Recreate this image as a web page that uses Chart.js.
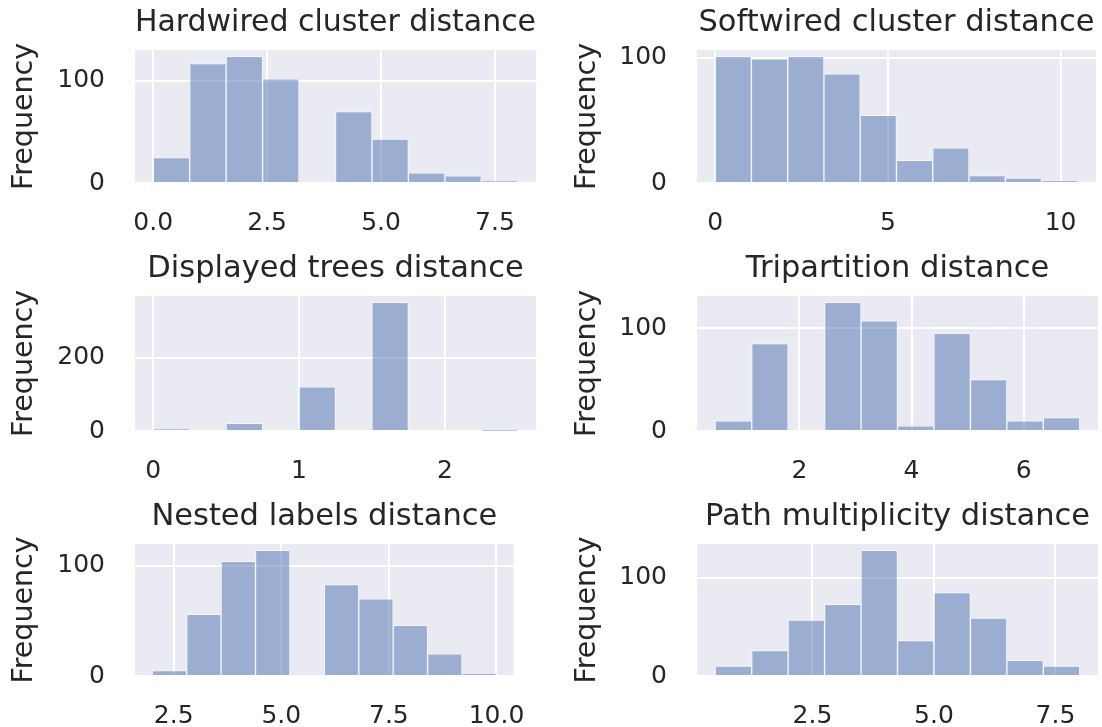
<!DOCTYPE html>
<html>
<head>
<meta charset="utf-8">
<title>Distance histograms</title>
<script src="https://cdn.jsdelivr.net/npm/chart.js@4.4.0/dist/chart.umd.min.js"></script>
<style>
  body { margin: 0; background: #fff; }
  #figure { position: relative; width: 1102px; height: 727px; }
  #figure canvas { position: absolute; }
</style>
</head>
<body>
<div id="figure">
  <canvas id="hardwired" width="551" height="242" style="left:0;top:0"></canvas>
  <canvas id="softwired" width="551" height="242" style="left:551px;top:0"></canvas>
  <canvas id="displayed" width="551" height="242" style="left:0;top:242px"></canvas>
  <canvas id="tripartition" width="551" height="242" style="left:551px;top:242px"></canvas>
  <canvas id="nested" width="551" height="243" style="left:0;top:484px"></canvas>
  <canvas id="path" width="551" height="243" style="left:551px;top:484px"></canvas>
</div>
<script>
// bin range [first edge, last edge] and the 10 bin counts of each histogram
const hardwiredRange = [0, 8];
const hardwiredCounts = [25, 117, 124, 102, 0, 70, 43, 10, 7, 2];
const hardwiredXTicks = [0, 2.5, 5, 7.5];
const hardwiredXLabels = ['0.0', '2.5', '5.0', '7.5'];
const hardwiredYTicks = [0, 100];

const softwiredRange = [0, 10.5];
const softwiredCounts = [101, 99, 101, 87, 54, 18, 28, 6, 4, 2];
const softwiredXTicks = [0, 5, 10];
const softwiredXLabels = ['0', '5', '10'];
const softwiredYTicks = [0, 100];

const displayedRange = [0, 2.5];
const displayedCounts = [5, 0, 21, 0, 121, 0, 352, 0, 0, 1];
const displayedXTicks = [0, 1, 2];
const displayedXLabels = ['0', '1', '2'];
const displayedYTicks = [0, 200];

const tripartitionRange = [0.5, 7];
const tripartitionCounts = [10, 85, 0, 125, 107, 5, 95, 50, 10, 13];
const tripartitionXTicks = [2, 4, 6];
const tripartitionXLabels = ['2', '4', '6'];
const tripartitionYTicks = [0, 100];

const nestedRange = [2, 10];
const nestedCounts = [5, 56, 104, 114, 0, 83, 70, 46, 20, 2];
const nestedXTicks = [2.5, 5, 7.5, 10];
const nestedXLabels = ['2.5', '5.0', '7.5', '10.0'];
const nestedYTicks = [0, 100];

const pathRange = [0.5, 8];
const pathCounts = [10, 26, 57, 73, 128, 36, 85, 59, 16, 10];
const pathXTicks = [2.5, 5, 7.5];
const pathXLabels = ['2.5', '5.0', '7.5'];
const pathYTicks = [0, 100];

Chart.defaults.font.family = '"DejaVu Sans", sans-serif';
Chart.defaults.color = '#262626';
Chart.defaults.animation = false;

// plot area of each panel, in canvas pixels
const leftCol = { left: 135, right: 536, labelX: 25 };
const rightCol = { left: 146, right: 547, labelX: 37 };
const rows = [{ top: 50, bottom: 183 }, { top: 54, bottom: 189 }, { top: 60, bottom: 192 }];

const plotBackground = {
    id: 'plotBackground',
    beforeDraw(chart) {
        const { ctx, chartArea: a } = chart;
        ctx.save();
        ctx.fillStyle = '#eaeaf2';
        ctx.fillRect(a.left, a.top, a.right - a.left, a.bottom - a.top);
        ctx.restore();
    }
};

function makeHistogram(id, title, range, counts, xTicks, xLabels, yTicks, col, row) {
    const canvas = document.getElementById(id);
    const binWidth = (range[1] - range[0]) / counts.length;
    const points = counts.map((c, i) => ({ x: range[0] + (i + 0.5) * binWidth, y: c }));
    const margin = (range[1] - range[0]) * 0.05;

    new Chart(canvas, {
        type: 'bar',
        data: {
            datasets: [{
                data: points,
                backgroundColor: 'rgba(76, 114, 176, 0.5)',
                borderColor: 'rgba(255, 255, 255, 0.5)',
                borderWidth: 1,
                barPercentage: 1,
                categoryPercentage: 1
            }]
        },
        options: {
            responsive: false,
            layout: { padding: { left: 0, right: canvas.width - col.right, top: 0, bottom: 0 } },
            plugins: {
                legend: { display: false },
                tooltip: { enabled: false },
                title: {
                    display: true,
                    text: title,
                    fullSize: false,
                    color: '#262626',
                    font: { size: 30.5, weight: 'normal' },
                    padding: { top: row.top - 45, bottom: 8.4 }
                }
            },
            scales: {
                x: {
                    type: 'linear',
                    min: range[0] - margin,
                    max: range[1] + margin,
                    offset: false,
                    grid: { color: '#ffffff', lineWidth: 2, drawTicks: false, offset: false },
                    border: { display: false },
                    ticks: {
                        font: { size: 25 },
                        padding: 25,
                        autoSkip: false,
                        maxRotation: 0,
                        callback: (v, i) => xLabels[i]
                    },
                    afterBuildTicks: s => { s.ticks = xTicks.map(v => ({ value: v })); },
                    afterFit: s => { s.height = canvas.height - row.bottom; }
                },
                y: {
                    min: 0,
                    max: Math.max(...counts) * 1.05,
                    grid: { color: '#ffffff', lineWidth: 2, drawTicks: false },
                    border: { display: false },
                    ticks: {
                        font: { size: 25 },
                        padding: 30,
                        callback: (v, i) => String(yTicks[i])
                    },
                    afterBuildTicks: s => { s.ticks = yTicks.map(v => ({ value: v })); },
                    afterFit: s => { s.width = col.left; },
                    title: {
                        display: true,
                        text: 'Frequency',
                        font: { size: 28.5 },
                        padding: { top: col.labelX - 17.1, bottom: 0 }
                    }
                }
            }
        },
        plugins: [plotBackground]
    });
}

makeHistogram('hardwired', 'Hardwired cluster distance', hardwiredRange, hardwiredCounts,
    hardwiredXTicks, hardwiredXLabels, hardwiredYTicks, leftCol, rows[0]);
makeHistogram('softwired', 'Softwired cluster distance', softwiredRange, softwiredCounts,
    softwiredXTicks, softwiredXLabels, softwiredYTicks, rightCol, rows[0]);
makeHistogram('displayed', 'Displayed trees distance', displayedRange, displayedCounts,
    displayedXTicks, displayedXLabels, displayedYTicks, leftCol, rows[1]);
makeHistogram('tripartition', 'Tripartition distance', tripartitionRange, tripartitionCounts,
    tripartitionXTicks, tripartitionXLabels, tripartitionYTicks, rightCol, rows[1]);
makeHistogram('nested', 'Nested labels distance', nestedRange, nestedCounts,
    nestedXTicks, nestedXLabels, nestedYTicks, leftCol, rows[2]);
makeHistogram('path', 'Path multiplicity distance', pathRange, pathCounts,
    pathXTicks, pathXLabels, pathYTicks, rightCol, rows[2]);
</script>
</body>
</html>
